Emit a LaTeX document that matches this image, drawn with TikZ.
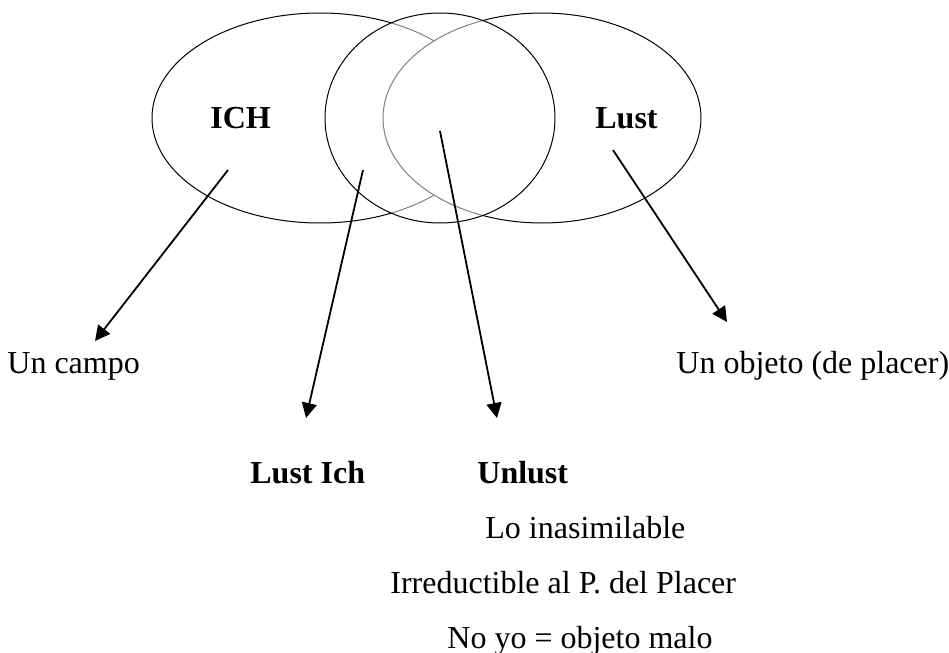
\documentclass[tikz,border=0pt]{standalone}
\usepackage{fontspec}
\setmainfont{Liberation Serif}
\usetikzlibrary{arrows.meta}
\tikzset{
  ring/.style={draw=black,line width=0.5pt},
  lbl/.style={inner sep=0pt,anchor=base west,font=\fontsize{16}{19}\selectfont},
  blbl/.style={lbl,font=\fontsize{16}{19}\selectfont\bfseries},
  ptr/.style={draw=black,line width=0.9pt,-{Triangle[length=7.5pt,width=7.5pt]}}
}
\begin{document}
\begin{tikzpicture}[x=0.5pt,y=-0.5pt]
\useasboundingbox (0,0) rectangle (949,653);
% ellipses
\draw[ring] (320,118) ellipse [x radius=168,y radius=105];
\draw[ring,fill=white] (542,118) ellipse [x radius=159,y radius=105];
\fill[white,fill opacity=0.5] (440,118) ellipse [x radius=115,y radius=105];
\draw[ring] (440,118) ellipse [x radius=115,y radius=105];
% labels
\node[blbl] (ich) at (210,128) {ICH};
\node[blbl] (lust) at (595,128) {Lust};
\node[lbl] (campo) at (7,373) {Un campo};
\node[lbl] (objeto) at (676,373) {Un objeto (de placer)};
\node[blbl] (lustich) at (250,483) {Lust Ich};
\node[blbl] (unlust) at (477,483) {Unlust};
\node[lbl] (lo) at (485,538) {Lo inasimilable};
\node[lbl] (irr) at (390,593) {Irreductible al P. del Placer};
\node[lbl] (noyo) at (447,648) {No yo = objeto malo};
% arrow ends
\coordinate (a1s) at (228,170); \coordinate (a1e) at (95,341);
\coordinate (a2s) at (363,170); \coordinate (a2e) at (306,418);
\coordinate (a3s) at (440,131); \coordinate (a3e) at (497,418);
\coordinate (a4s) at (613,150); \coordinate (a4e) at (727,322);
\draw[ptr] (a1s) -- (a1e);
\draw[ptr] (a2s) -- (a2e);
\draw[ptr] (a3s) -- (a3e);
\draw[ptr] (a4s) -- (a4e);
\end{tikzpicture}
\end{document}
